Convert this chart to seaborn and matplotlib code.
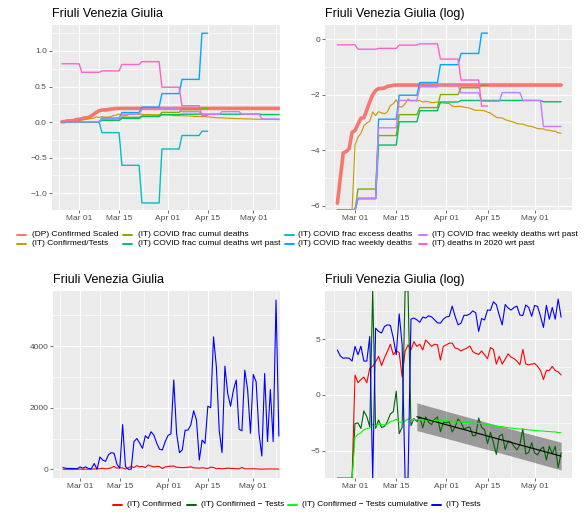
import numpy as np
import pandas as pd
import matplotlib
matplotlib.use("Agg")
import matplotlib.pyplot as plt
import matplotlib.dates as mdates
from matplotlib.lines import Line2D
from matplotlib.ticker import FixedLocator
import seaborn as sns

sns.set_theme(style="darkgrid")
plt.rcParams["font.family"] = ["Liberation Sans", "DejaVu Sans"]

# ---------------- data ----------------
START = "2020-02-24"
N_DAYS = 77
SHORT_END = "2020-04-15"
FIT_START = "2020-03-22"
region = "Friuli Venezia Giulia"

top_labels = ["(DP) Confirmed Scaled", "(IT) Confirmed/Tests", "(IT) COVID frac cumul deaths",
              "(IT) COVID frac cumul deaths wrt past", "(IT) COVID frac excess deaths",
              "(IT) COVID frac weekly deaths", "(IT) COVID frac weekly deaths wrt past",
              "(IT) deaths in 2020 wrt past"]
top_colors = ["#F8766D", "#CD9600", "#7CAE00", "#00BE67", "#00BFC4", "#00A9FF", "#C77CFF", "#FF61CC"]

bottom_labels = ["(IT) Confirmed", "(IT) Confirmed \u2212 Tests",
                 "(IT) Confirmed \u2212 Tests cumulative", "(IT) Tests"]
bottom_colors = ["red", "darkgreen", "#00FF00", "blue"]

# daily scaled confirmed (DP)
dp_confirmed_scaled = [0.0027, 0.0067, 0.0166, 0.0174, 0.0193, 0.035, 0.037, 0.047, 0.058, 0.059,
                       0.078, 0.105, 0.135, 0.157, 0.169, 0.170, 0.172, 0.183, 0.186, 0.190] + [0.192] * 57

# weekly values (weeks starting Mondays from Feb 24)
frac_cumul_deaths = [0, 0.0045, 0.031, 0.066, 0.085, 0.136, 0.174, 0.19]
frac_cumul_deaths_past = [0, 0.0032, 0.022, 0.051, 0.076, 0.104, 0.11, 0.11, 0.11, 0.11, 0.105]
frac_excess_deaths = [0, 0.0032, -0.15, -0.61, -1.14, -0.38, -0.19, -0.13]
frac_weekly_deaths = [0, 0.0032, 0.056, 0.133, 0.21, 0.40, 0.60, 1.25]
frac_weekly_deaths_past = [0, 0.0032, 0.041, 0.11, 0.18, 0.19, 0.145, 0.107, 0.146, 0.11, 0.043]
deaths_2020_wrt_past = [0.82, 0.70, 0.72, 0.81, 0.85, 0.49, 0.23, 0.09]

# daily confirmed and tests
confirmed = [0, 0, 0, 0, 0, 0, 6, 3, 4, 5, 3, 11, 13, 20, 32, 14, 28, 50, 95, 37,
             52, 45, 5, 50, 90, 57, 120, 78, 95, 57, 140, 105, 78, 95, 90, 23, 78, 90, 105, 105,
             67, 63, 52, 60, 67, 81, 49, 42, 38, 52, 37, 26, 70, 60, 16, 32, 16, 25, 40, 30,
             26, 21, 15, 60, 16, 15, 16, 17, 13, 9, 4, 9, 9, 13, 9, 8, 6]
tests = [57, 33, 27, 28, 27, 21, 78, 37, 80, 21, 21, 190, 0, 400, 300, 260, 470, 540, 520, 165,
         37, 1450, 90, 0, 0, 900, 1000, 850, 680, 1090, 1000, 1220, 1110, 850, 650, 630, 900, 1100, 1150, 2900,
         1170, 540, 630, 1270, 1270, 1440, 1900, 1600, 300, 950, 840, 2050, 2000, 4300, 3330, 1270, 540, 3350, 2460, 2050,
         2570, 2900, 1300, 1250, 3220, 2590, 1170, 3080, 2840, 1170, 430, 3110, 900, 2590, 900, 5500, 1080]

x_tick_dates = ["2020-03-01", "2020-03-15", "2020-04-01", "2020-04-15", "2020-05-01"]
x_tick_labels = ["Mar 01", "Mar 15", "Apr 01", "Apr 15", "May 01"]

# ---------------- derived ----------------
dates = pd.date_range(START, periods=N_DAYS)
d_idx = np.arange(N_DAYS)
conf = np.array(confirmed, float)
tst = np.array(tests, float)
with np.errstate(divide="ignore", invalid="ignore"):
    cum_ratio = np.cumsum(conf) / np.cumsum(tst)


def weekly_daily(weekly, end=None):
    w = np.array(weekly, float)
    keep = d_idx // 7 < len(w)
    dd = dates[keep]
    vals = w[d_idx[keep] // 7]
    if end is not None:
        m = dd <= pd.Timestamp(end)
        dd, vals = dd[m], vals[m]
    return dd, vals


top_data = [
    (dates, np.array(dp_confirmed_scaled, float)),
    (dates, cum_ratio),
    weekly_daily(frac_cumul_deaths, SHORT_END),
    weekly_daily(frac_cumul_deaths_past),
    weekly_daily(frac_excess_deaths, SHORT_END),
    weekly_daily(frac_weekly_deaths, SHORT_END),
    weekly_daily(frac_weekly_deaths_past),
    weekly_daily(deaths_2020_wrt_past, SHORT_END),
]
top_lw = [2.6, 0.8] + [1.0] * 6

# ---------------- figure ----------------
W, H = 585, 519
fig = plt.figure(figsize=(W / 100, H / 100), dpi=100)
fig.patch.set_facecolor("white")


def add_ax(l, t, r, b):
    return fig.add_axes([l / W, 1 - b / H, (r - l) / W, (b - t) / H])


day0 = pd.Timestamp(START)
major_x = [pd.Timestamp(d) for d in x_tick_dates]
minor_x = [major_x[0] - (major_x[1] - major_x[0]) / 2]
minor_x += [major_x[i] + (major_x[i + 1] - major_x[i]) / 2 for i in range(len(major_x) - 1)]
minor_x += [major_x[-1] + (major_x[-1] - major_x[-2]) / 2]


def style(ax, xlim, ylim, yticks, ylabels, yminor, title):
    ax.set_facecolor("#EBEBEB")
    for s in ax.spines.values():
        s.set_visible(False)
    ax.set_xlim(mdates.date2num(day0 + pd.Timedelta(days=xlim[0])),
                mdates.date2num(day0 + pd.Timedelta(days=xlim[1])))
    ax.set_ylim(*ylim)
    ax.set_xticks(mdates.date2num(major_x))
    ax.set_xticklabels(x_tick_labels)
    ax.xaxis.set_minor_locator(FixedLocator(mdates.date2num(minor_x)))
    ax.set_yticks(yticks)
    ax.set_yticklabels(ylabels)
    ax.yaxis.set_minor_locator(FixedLocator(yminor))
    ax.grid(which="major", color="white", lw=0.85)
    ax.grid(which="minor", color="white", lw=0.45)
    ax.tick_params(which="major", bottom=True, left=True, length=2.0, width=0.5, color="#333333",
                   labelsize=6, labelcolor="#4D4D4D", pad=1.5)
    ax.tick_params(which="minor", length=0)
    ax.set_xlabel("")
    ax.set_ylabel("")
    ax.set_axisbelow(True)
    ax.set_title(title, loc="left", fontsize=9, pad=5.5, color="black")


# --- top left (linear)
ax_tl = add_ax(51.7, 25, 280, 210)
for (dd, vv), c, lw in zip(top_data, top_colors, top_lw):
    df = pd.DataFrame({"date": dd, "value": vv}).dropna()
    sns.lineplot(data=df, x="date", y="value", color=c, lw=lw, ax=ax_tl,
                 estimator=None, sort=False, legend=False)
style(ax_tl, (-3.57, 76.3), (-1.239, 1.366), [-1.0, -0.5, 0.0, 0.5, 1.0],
      ["\u22121.0", "\u22120.5", "0.0", "0.5", "1.0"], [-1.25, -0.75, -0.25, 0.25, 0.75, 1.25], region)

# --- top right (log)
TR_YLIM = (-6.16, 0.516)
ax_tr = add_ax(325.3, 25, 572, 210)
for (dd, vv), c, lw in zip(top_data, top_colors, top_lw):
    with np.errstate(divide="ignore", invalid="ignore"):
        lv = np.log(vv)
    lv = np.clip(lv, *TR_YLIM)
    df = pd.DataFrame({"date": dd, "value": lv}).dropna()
    sns.lineplot(data=df, x="date", y="value", color=c, lw=lw, ax=ax_tr,
                 estimator=None, sort=False, legend=False)
style(ax_tr, (-4.1, 79.7), TR_YLIM, [-6, -4, -2, 0], ["\u22126", "\u22124", "\u22122", "0"],
      [-5, -3, -1], region + " (log)")

# --- bottom left (linear)
ax_bl = add_ax(53.3, 290.7, 280, 478.3)
for vv, c in [(conf, bottom_colors[0]), (tst, bottom_colors[3])]:
    df = pd.DataFrame({"date": dates, "value": vv})
    sns.lineplot(data=df, x="date", y="value", color=c, lw=0.8, ax=ax_bl,
                 estimator=None, sort=False, legend=False)
style(ax_bl, (-3.4, 76.4), (-292, 5799), [0, 2000, 4000], ["0", "2000", "4000"],
      [1000, 3000, 5000], region)

# --- bottom right (log)
BR_YLIM = (-7.48, 9.36)
ax_br = add_ax(325.3, 290.7, 572, 478.3)
with np.errstate(divide="ignore", invalid="ignore"):
    log_conf = np.log(conf)
    log_tests = np.log(tst)
    log_ratio = np.log(conf / tst)
    log_cum_ratio = np.log(cum_ratio)

# linear fit with prediction band on daily log ratio
fit_mask = dates >= pd.Timestamp(FIT_START)
xf = d_idx[fit_mask].astype(float)
yf = log_ratio[fit_mask]
slope, intercept = np.polyfit(xf, yf, 1)
yhat = intercept + slope * xf
n = len(xf)
s = np.sqrt(np.sum((yf - yhat) ** 2) / (n - 2))
t_crit = 2.01
half = t_crit * s * np.sqrt(1 + 1 / n + (xf - xf.mean()) ** 2 / np.sum((xf - xf.mean()) ** 2))
ax_br.fill_between(mdates.date2num(dates[fit_mask]), yhat - half, yhat + half,
                   color="black", alpha=0.35, lw=0, zorder=1.5)

for vv, c in [(log_conf, bottom_colors[0]), (log_ratio, bottom_colors[1]),
              (log_cum_ratio, bottom_colors[2]), (log_tests, bottom_colors[3])]:
    df = pd.DataFrame({"date": dates, "value": np.clip(vv, *BR_YLIM)}).dropna()
    sns.lineplot(data=df, x="date", y="value", color=c, lw=0.8, ax=ax_br,
                 estimator=None, sort=False, legend=False, zorder=2)
sns.lineplot(x=dates[fit_mask], y=yhat, color="black", lw=0.8, ax=ax_br,
             estimator=None, sort=False, legend=False, zorder=3)
style(ax_br, (-4.1, 79.7), BR_YLIM, [-5, 0, 5], ["\u22125", "0", "5"], [-2.5, 2.5, 7.5],
      region + " (log)")


# ---------------- legends ----------------
def legend_entry(xk, xt, y, color, label):
    fig.add_artist(Line2D([xk / W, (xk + 8.7) / W], [1 - y / H, 1 - y / H], color=color, lw=1.4,
                          transform=fig.transFigure))
    fig.text(xt / W, 1 - y / H, label, fontsize=6, va="center", ha="left", color="black")


top_key_x = [17.3, 123.0, 285.0, 418.5]
top_text_x = [31.7, 137.7, 298.0, 431.7]
top_rows_y = [234.7, 243.7]
for i, (lab, col) in enumerate(zip(top_labels, top_colors)):
    ci, ri = i // 2, i % 2
    legend_entry(top_key_x[ci], top_text_x[ci], top_rows_y[ri], col, lab)

bot_key_x = [113.0, 187.0, 288.0, 432.0]
bot_text_x = [127.3, 200.7, 301.7, 445.7]
for i, (lab, col) in enumerate(zip(bottom_labels, bottom_colors)):
    legend_entry(bot_key_x[i], bot_text_x[i], 505.0, col, lab)

fig.savefig("out.png", dpi=100, facecolor="white")
